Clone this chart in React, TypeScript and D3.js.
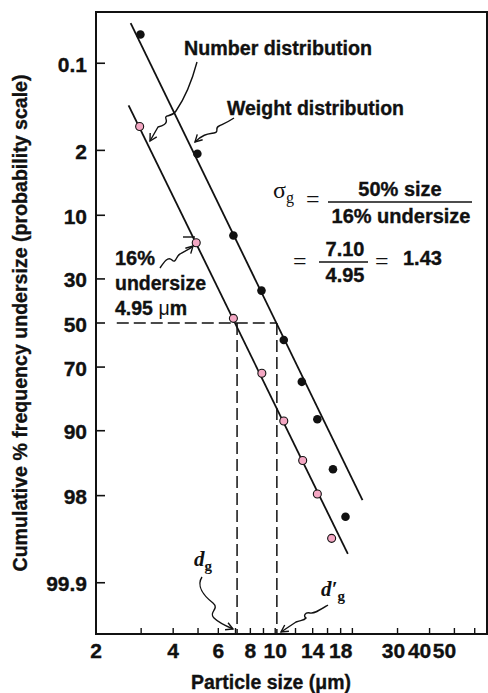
import React from "react";
import * as d3 from "d3";

// ---- data ----
const numberSizes = [2.96, 4.92, 6.87, 8.87, 10.8, 12.8, 14.6, 16.6];
const numberPct = [0.97, 17, 47.8, 72.5, 87.8, 94.9, 97.9, 99.48];
const weightSizes = [2.98, 4.97, 6.87, 8.84, 10.8, 12.7, 14.6, 16.8, 18.8];
const weightPct = [0.03, 2.2, 14.9, 35, 58, 75.8, 87.4, 95.9, 98.94];
const numberFitSizes = [2.68, 19.2];
const numberFitPct = [0.48, 99.7];
const weightFitSizes = [2.73, 21.9];
const weightFitPct = [0.018, 98.25];
const xTickValues = [3, 4, 5, 6, 7, 8, 9, 10, 12, 14, 16, 18, 20, 30, 40, 50, 60];
const xTickLabels = [2, 4, 6, 8, 10, 14, 18, 30, 40, 50];
const yTickValues = [0.1, 2, 10, 30, 50, 70, 90, 98, 99.9];
const yTickLabels = ["0.1", "2", "10", "30", "50", "70", "90", "98", "99.9"];
const dg = 7.1;
const dgPrime = 10.15;
const guideStart = 2.41;

function probit(p: number): number {
  const a = [-3.969683028665376e1, 2.209460984245205e2, -2.759285104469687e2, 1.38357751867269e2, -3.066479806614716e1, 2.506628277459239];
  const b = [-5.447609879822406e1, 1.615858368580409e2, -1.556989798598866e2, 6.680131188771972e1, -1.328068155288572e1];
  const c = [-7.784894002430293e-3, -3.223964580411365e-1, -2.400758277161838, -2.549732539343734, 4.374664141464968, 2.938163982698783];
  const d = [7.784695709041462e-3, 3.224671290700398e-1, 2.445134137142996, 3.754408661907416];
  const pl = 0.02425;
  let q: number, r: number;
  if (p < pl) {
    q = Math.sqrt(-2 * Math.log(p));
    return (((((c[0] * q + c[1]) * q + c[2]) * q + c[3]) * q + c[4]) * q + c[5]) / ((((d[0] * q + d[1]) * q + d[2]) * q + d[3]) * q + 1);
  }
  if (p <= 1 - pl) {
    q = p - 0.5;
    r = q * q;
    return ((((((a[0] * r + a[1]) * r + a[2]) * r + a[3]) * r + a[4]) * r + a[5]) * q) / (((((b[0] * r + b[1]) * r + b[2]) * r + b[3]) * r + b[4]) * r + 1);
  }
  q = Math.sqrt(-2 * Math.log(1 - p));
  return -(((((c[0] * q + c[1]) * q + c[2]) * q + c[3]) * q + c[4]) * q + c[5]) / ((((d[0] * q + d[1]) * q + d[2]) * q + d[3]) * q + 1);
}

const W = 488;
const H = 693;
const L = 96, R = 487, T = 12, B = 634;

const SANS = "'Liberation Sans', Arial, Helvetica, sans-serif";
const SERIF = "'Liberation Serif', 'Times New Roman', serif";

// label nudges for the crowded decade labels (style only)
const labelShift = (v: number) => (v === 30 ? -4 : v === 40 ? -10 : v === 50 ? -10 : 0);

export default function App() {
  const x = d3.scaleLog().domain([2, 67]).range([L, R]);
  const zScale = d3.scaleLinear().domain([-3.7, 3.7]).range([T, B]);
  const y = (pct: number) => zScale(probit(pct / 100));

  const line = d3
    .line<[number, number]>()
    .x((d) => x(d[0]))
    .y((d) => y(d[1]));

  const numberFit = line(numberFitSizes.map((s, i) => [s, numberFitPct[i]] as [number, number])) || "";
  const weightFit = line(weightFitSizes.map((s, i) => [s, weightFitPct[i]] as [number, number])) || "";

  const y50 = y(50);

  const arrowStyle = { fill: "none", stroke: "#111", strokeWidth: 1.4 };
  const heavy = { fontWeight: 700, fill: "#111", stroke: "#111", strokeWidth: 0.35 } as const;

  return (
    <svg
      width={W}
      height={H}
      style={{ position: "absolute", left: 0, top: 0, background: "#fff" }}
      fontFamily={SANS}
    >
      <defs>
        <marker id="ah" viewBox="-8 -5 10 10" refX={0} refY={0} markerWidth={10} markerHeight={10} markerUnits="userSpaceOnUse" orient="auto">
          <path d="M-7,-3.8 L0,0 L-7,3.8" fill="none" stroke="#111" strokeWidth={1.4} />
        </marker>
      </defs>
      <rect x={0} y={0} width={W} height={H} fill="#fff" />

      {/* frame */}
      <rect x={L} y={T} width={R - L} height={B - T} fill="none" stroke="#111" strokeWidth={2} />

      {/* x ticks */}
      {xTickValues.map((v) => (
        <line key={"xt" + v} x1={x(v)} x2={x(v)} y1={B} y2={B - 6} stroke="#111" strokeWidth={1.4} />
      ))}
      {xTickLabels.map((v) => (
        <text key={"xl" + v} x={x(v) + labelShift(v)} y={658} textAnchor="middle" fontSize={21} {...heavy}>
          {v}
        </text>
      ))}

      {/* y ticks */}
      {yTickValues.map((v, i) => (
        <g key={"yt" + v}>
          <line x1={L} x2={L + 9} y1={y(v)} y2={y(v)} stroke="#111" strokeWidth={1.6} />
          <text x={87} y={y(v) + 8.5} textAnchor="end" fontSize={21} {...heavy}>
            {yTickLabels[i]}
          </text>
        </g>
      ))}

      {/* axis titles */}
      <text x={271} y={689} textAnchor="middle" fontSize={19.5} {...heavy} textLength={160} lengthAdjust="spacingAndGlyphs">
        Particle size (μm)
      </text>
      <text
        transform={`translate(27, ${(T + B) / 2}) rotate(-90)`}
        textAnchor="middle"
        fontSize={19.5}
        {...heavy}
        textLength={497}
        lengthAdjust="spacingAndGlyphs"
      >
        Cumulative % frequency undersize (probability scale)
      </text>

      {/* dashed guides */}
      <g stroke="#111" strokeWidth={1.5} strokeDasharray="12,5" fill="none">
        <line x1={x(guideStart)} x2={x(dgPrime)} y1={y50} y2={y50} />
        <line x1={x(dg)} x2={x(dg)} y1={y50} y2={B} />
        <line x1={x(dgPrime)} x2={x(dgPrime)} y1={y50} y2={B} />
      </g>

      {/* fitted lines */}
      <path d={numberFit} fill="none" stroke="#111" strokeWidth={1.8} />
      <path d={weightFit} fill="none" stroke="#111" strokeWidth={1.8} />

      {/* points */}
      {weightSizes.map((s, i) => (
        <circle key={"w" + i} cx={x(s)} cy={y(weightPct[i])} r={4.3} fill="#111" />
      ))}
      {numberSizes.map((s, i) => (
        <circle key={"n" + i} cx={x(s)} cy={y(numberPct[i])} r={4} fill="#f4a7c3" stroke="#111" strokeWidth={1.1} />
      ))}

      {/* annotations */}
      <text x={184} y={55} fontSize={19.5} {...heavy} textLength={188} lengthAdjust="spacingAndGlyphs">
        Number distribution
      </text>
      <text x={227} y={115} fontSize={19.5} {...heavy} textLength={177} lengthAdjust="spacingAndGlyphs">
        Weight distribution
      </text>
      <path d="M197,62 Q189,92 176,111 C171,118 164,114 166,119 C168,124 162,126 158,127 L150,141" {...arrowStyle} markerEnd="url(#ah)" />
      <path d="M234,118 C228,122 223,124 219,126 C214,128 220,132 214,133 C208,134 203,134 195,142" {...arrowStyle} markerEnd="url(#ah)" />

      <text x={115} y={265} fontSize={20} {...heavy}>16%</text>
      <text x={115} y={290} fontSize={19.5} {...heavy}>undersize</text>
      <text x={115} y={315} fontSize={19.5} {...heavy}>
        4.95 <tspan fontWeight={400} strokeWidth={0}>μ</tspan>m
      </text>
      <line x1={183} x2={195} y1={237} y2={237} stroke="#111" strokeWidth={1.4} />
      <path d="M160,268 C164,262 168,256 172,260 C176,264 176,256 180,254 C185,251 189,250 193,246" {...arrowStyle} markerEnd="url(#ah)" />

      {/* d_g labels */}
      <text x={194} y={566} fontFamily={SERIF} fontSize={21} fontWeight={700} fontStyle="italic" fill="#111">
        d<tspan fontStyle="normal" fontSize={15} dy={5}>g</tspan>
      </text>
      <path d="M202,577 C196,586 204,596 213,603 C220,609 208,612 214,618 C219,623 226,626 233,629" {...arrowStyle} markerEnd="url(#ah)" />
      <text x={321} y={596} fontFamily={SERIF} fontSize={21} fontWeight={700} fontStyle="italic" fill="#111">
        d′<tspan fontStyle="normal" fontSize={15} dy={5}>g</tspan>
      </text>
      <path d="M328,605 C320,610 314,614 310,613 C305,612 303,616 306,618 C304,621 300,620 296,622 L281,632" {...arrowStyle} markerEnd="url(#ah)" />

      {/* formula */}
      <text x={273} y={198} fontFamily={SERIF} fontSize={24} fill="#111">
        σ<tspan fontSize={16} dy={5}>g</tspan>
      </text>
      <text x={306} y={207} fontFamily={SERIF} fontSize={24} fill="#111">=</text>
      <text x={400} y={196} textAnchor="middle" fontSize={20} {...heavy}>50% size</text>
      <line x1={328} x2={472} y1={202} y2={202} stroke="#111" strokeWidth={1.4} />
      <text x={401} y={223} textAnchor="middle" fontSize={20} {...heavy}>16% undersize</text>

      <text x={293} y={269} fontFamily={SERIF} fontSize={24} fill="#111">=</text>
      <text x={345} y={256} textAnchor="middle" fontSize={20} {...heavy}>7.10</text>
      <line x1={319} x2={368} y1={262} y2={262} stroke="#111" strokeWidth={1.4} />
      <text x={345} y={282} textAnchor="middle" fontSize={20} {...heavy}>4.95</text>
      <text x={375} y={269} fontFamily={SERIF} fontSize={24} fill="#111">=</text>
      <text x={403} y={265} fontSize={20} {...heavy}>1.43</text>
    </svg>
  );
}
